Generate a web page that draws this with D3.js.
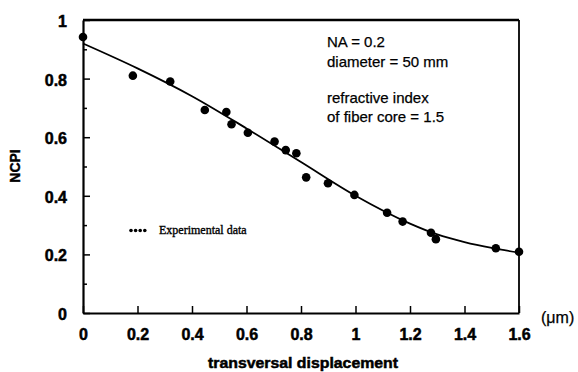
<!DOCTYPE html>
<html><head><meta charset="utf-8">
<script src="https://cdn.jsdelivr.net/npm/d3@7"></script>
<style>body{margin:0;background:#fff}svg{display:block}</style>
</head><body>
<svg id="c" width="578" height="372"></svg>
<script>
const pointX = [0, 0.183, 0.32, 0.447, 0.526, 0.545, 0.605, 0.703, 0.744, 0.783, 0.819, 0.899, 0.996, 1.116, 1.173, 1.277, 1.295, 1.515, 1.6];
const pointY = [0.942, 0.81, 0.79, 0.693, 0.686, 0.644, 0.615, 0.585, 0.556, 0.545, 0.463, 0.443, 0.403, 0.342, 0.312, 0.274, 0.252, 0.221, 0.209];
const fitX = [0, 0.2, 0.4, 0.6, 0.8, 1.0, 1.2, 1.3, 1.4, 1.5, 1.6];
const fitY = [0.92, 0.835, 0.74, 0.63, 0.515, 0.40, 0.305, 0.268, 0.242, 0.222, 0.206];
const xTicks = [0, 0.2, 0.4, 0.6, 0.8, 1, 1.2, 1.4, 1.6];
const xTickLabels = ["0", "0.2", "0.4", "0.6", "0.8", "1", "1.2", "1.4", "1.6"];
const yTicks = [0, 0.2, 0.4, 0.6, 0.8, 1];
const yTickLabels = ["0", "0.2", "0.4", "0.6", "0.8", "1"];
const yMinorTicks = [0.1, 0.3, 0.5, 0.7, 0.9];
const annotations = ["NA = 0.2", "diameter = 50 mm", "refractive index", "of fiber core = 1.5"];
const legendLabel = "Experimental data";
const xTitle = "transversal displacement";
const yTitle = "NCPI";
const unitLabel = "(\u03bcm)";

const svg = d3.select("#c");
const L = 83, R = 519, T = 20, B = 313;
const x = d3.scaleLinear().domain([0, 1.6]).range([L, R]);
const y = d3.scaleLinear().domain([0, 1]).range([B, T]);
const sans = "'Liberation Sans', Arial, Helvetica, sans-serif";

// frame
svg.append("line").attr("x1", L).attr("x2", R).attr("y1", T).attr("y2", T)
  .attr("stroke", "#000").attr("stroke-width", 2.6);
svg.append("line").attr("x1", R).attr("x2", R).attr("y1", T).attr("y2", B)
  .attr("stroke", "#000").attr("stroke-width", 1.8);

// axes
const xAxis = d3.axisBottom(x).tickValues(xTicks).tickSizeInner(-7).tickSizeOuter(0)
  .tickFormat((d, i) => xTickLabels[i]).tickPadding(16);
const gx = svg.append("g").attr("transform", `translate(0,${B})`).call(xAxis);
gx.select(".domain").attr("stroke-width", 2.2);
gx.selectAll(".tick line").attr("stroke-width", 1.5);
gx.selectAll(".tick text").attr("font-family", sans).attr("font-size", 16).attr("font-weight", "bold")
  .attr("fill", "#000").attr("stroke", "#000").attr("stroke-width", 0.5);

const yAxis = d3.axisLeft(y).tickValues(yTicks).tickSizeInner(-7).tickSizeOuter(0)
  .tickFormat((d, i) => yTickLabels[i]).tickPadding(16);
const gy = svg.append("g").attr("transform", `translate(${L},0)`).call(yAxis);
gy.select(".domain").attr("stroke-width", 2.2);
gy.selectAll(".tick line").attr("stroke-width", 1.5);
gy.selectAll(".tick text").attr("font-family", sans).attr("font-size", 16).attr("font-weight", "bold")
  .attr("fill", "#000").attr("stroke", "#000").attr("stroke-width", 0.5).attr("dy", "0.4em");

const yMinor = d3.axisLeft(y).tickValues(yMinorTicks).tickSizeInner(-4).tickSizeOuter(0).tickFormat("");
const gym = svg.append("g").attr("transform", `translate(${L},0)`).call(yMinor);
gym.select(".domain").remove();
gym.selectAll(".tick line").attr("stroke-width", 1.5);

// fit line
const fitData = fitX.map((v, i) => [v, fitY[i]]);
svg.append("path").datum(fitData)
  .attr("d", d3.line().x(d => x(d[0])).y(d => y(d[1])).curve(d3.curveMonotoneX))
  .attr("fill", "none").attr("stroke", "#000").attr("stroke-width", 1.8);

// points
svg.append("g").selectAll("circle").data(pointX.map((v, i) => [v, pointY[i]]))
  .join("circle").attr("cx", d => x(d[0])).attr("cy", d => y(d[1])).attr("r", 4.3).attr("fill", "#000");

// annotations
const annY = [47, 66.5, 103, 121.5];
svg.append("g").selectAll("text").data(annotations).join("text")
  .attr("x", 327).attr("y", (d, i) => annY[i])
  .attr("font-family", sans).attr("font-size", 15).attr("fill", "#000")
  .attr("stroke", "#000").attr("stroke-width", 0.25).text(d => d);

// legend
svg.append("g").selectAll("circle").data([0, 1, 2, 3]).join("circle")
  .attr("cx", d => 131 + d * 4.6).attr("cy", 230.5).attr("r", 1.8).attr("fill", "#000");
svg.append("text").attr("x", 159).attr("y", 234)
  .attr("font-family", "'Liberation Serif', 'Times New Roman', serif").attr("font-size", 12)
  .attr("fill", "#000").attr("stroke", "#000").attr("stroke-width", 0.35).text(legendLabel);

// titles
svg.append("text").attr("x", 303).attr("y", 368).attr("text-anchor", "middle")
  .attr("font-family", sans).attr("font-size", 15).attr("font-weight", "bold")
  .attr("stroke", "#000").attr("stroke-width", 0.5)
  .attr("textLength", 190).attr("lengthAdjust", "spacingAndGlyphs").text(xTitle);
svg.append("text").attr("transform", "translate(20,166) rotate(-90)").attr("text-anchor", "middle")
  .attr("font-family", sans).attr("font-size", 14).attr("font-weight", "bold")
  .attr("stroke", "#000").attr("stroke-width", 0.4).text(yTitle);
svg.append("text").attr("x", 541).attr("y", 323)
  .attr("font-family", sans).attr("font-size", 16)
  .attr("stroke", "#000").attr("stroke-width", 0.25).text(unitLabel);
</script>
</body></html>
